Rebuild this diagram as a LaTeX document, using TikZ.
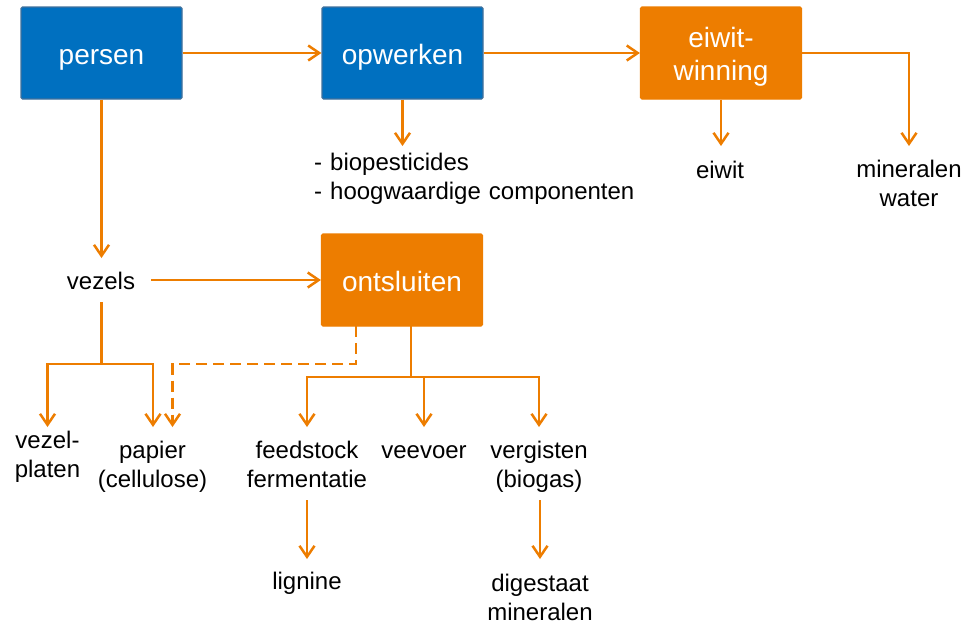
\documentclass[tikz,border=0pt]{standalone}
\usepackage{fontspec}
\setmainfont{Liberation Sans}
\usetikzlibrary{arrows.meta}
\definecolor{boxblue}{RGB}{0,112,192}
\definecolor{boxblueline}{RGB}{65,113,156}
\definecolor{orng}{RGB}{237,125,0}
\begin{document}
\begin{tikzpicture}[x=1pt,y=-1pt,
  procbox/.style={line width=1.2pt, text=white, minimum width=161pt, minimum height=92pt,
    inner sep=0pt, rounded corners=1.5pt, font=\fontsize{28}{33.5}\selectfont, align=center,
    text height=22pt, text depth=0pt},
  bluebox/.style={procbox, draw=boxblueline, fill=boxblue},
  orangebox/.style={procbox, draw=orng, fill=orng},
  lbl/.style={inner sep=0pt, font=\fontsize{24}{29}\selectfont, text=black, anchor=base},
  lbltwo/.style={lbl, text width=150pt, align=center},
  flowline/.style={draw=orng, line width=2.5pt},
  flow/.style={flowline, -{Straight Barb[length=11pt,width=15pt]}},
  dashflow/.style={flow, dash pattern=on 11pt off 6pt}
]
\useasboundingbox (0,0) rectangle (973,625);

% boxes
\node[bluebox] (persen) at (101.5,53) {persen};
\node[bluebox] (opwerken) at (402.5,53) {opwerken};
\node[orangebox, text width=150pt, text height=0pt, text depth=12pt] (eiwit) at (721,53) {eiwit-\\winning};
\node[orangebox] (ontsluiten) at (402,280) {ontsluiten};

% labels
\node[lbl, anchor=base west, text width=340pt, align=left] (bio) at (314,170)
  {- biopesticides\\- hoogwaardige componenten};
\node[lbl] (eiwitout) at (720,178) {eiwit};
\node[lbltwo] (mineralen) at (909,177.5) {mineralen\\water};
\node[lbl] (vezels) at (101,289.5) {vezels};
\node[lbltwo] (platen) at (47.5,448.5) {vezel-\\platen};
\node[lbltwo] (papier) at (152.5,458.5) {papier\\(cellulose)};
\node[lbltwo] (feed) at (307,458.5) {feedstock\\fermentatie};
\node[lbl] (veevoer) at (424,458.5) {veevoer};
\node[lbltwo] (vergisten) at (539,458.5) {vergisten\\(biogas)};
\node[lbl] (lignine) at (307,589.5) {lignine};
\node[lbltwo] (digestaat) at (540,591) {digestaat\\mineralen};

% helper coordinates
\coordinate (tMin) at (909,146);
\coordinate (tEiwit) at (721,146);
\coordinate (tBio) at (402.5,146);
\coordinate (tVez) at (101.5,258);
\coordinate (sVez) at (151,280);
\coordinate (jVezTop) at (101.5,302);
\coordinate (jVez) at (101.5,364);
\coordinate (tPlaten) at (47.5,427);
\coordinate (tPapier) at (153,427);
\coordinate (dStart) at (356,326);
\coordinate (dBend) at (172.5,364);
\coordinate (tPapier2) at (172.5,427);
\coordinate (oStart) at (411,326);
\coordinate (oJ) at (411,377);
\coordinate (tFeed) at (307,427);
\coordinate (tVeev) at (424,427);
\coordinate (tVerg) at (539,427);
\coordinate (lStart) at (307,500);
\coordinate (lTip) at (307,559);
\coordinate (gStart) at (540,500);
\coordinate (gTip) at (540,559);

% connectors
\draw[flow] (persen) -- (opwerken);
\draw[flow] (opwerken) -- (eiwit);
\draw[flow] (eiwit.east) -| (tMin);
\draw[flow] (eiwit.south) -- (tEiwit);
\draw[flow] (opwerken.south) -- (tBio);
\draw[flow] (persen.south) -- (tVez);
\draw[flow] (sVez) -- (ontsluiten.west);
\draw[flowline] (jVezTop) -- (jVez);
\draw[flow] (jVez) -| (tPlaten);
\draw[flow] (jVez) -| (tPapier);
\draw[dashflow] (dStart) |- (dBend) -- (tPapier2);
\draw[flowline] (oStart) -- (oJ);
\draw[flow] (oJ) -| (tFeed);
\draw[flow] (oJ) -| (tVeev);
\draw[flow] (oJ) -| (tVerg);
\draw[flow] (lStart) -- (lTip);
\draw[flow] (gStart) -- (gTip);
\end{tikzpicture}
\end{document}
